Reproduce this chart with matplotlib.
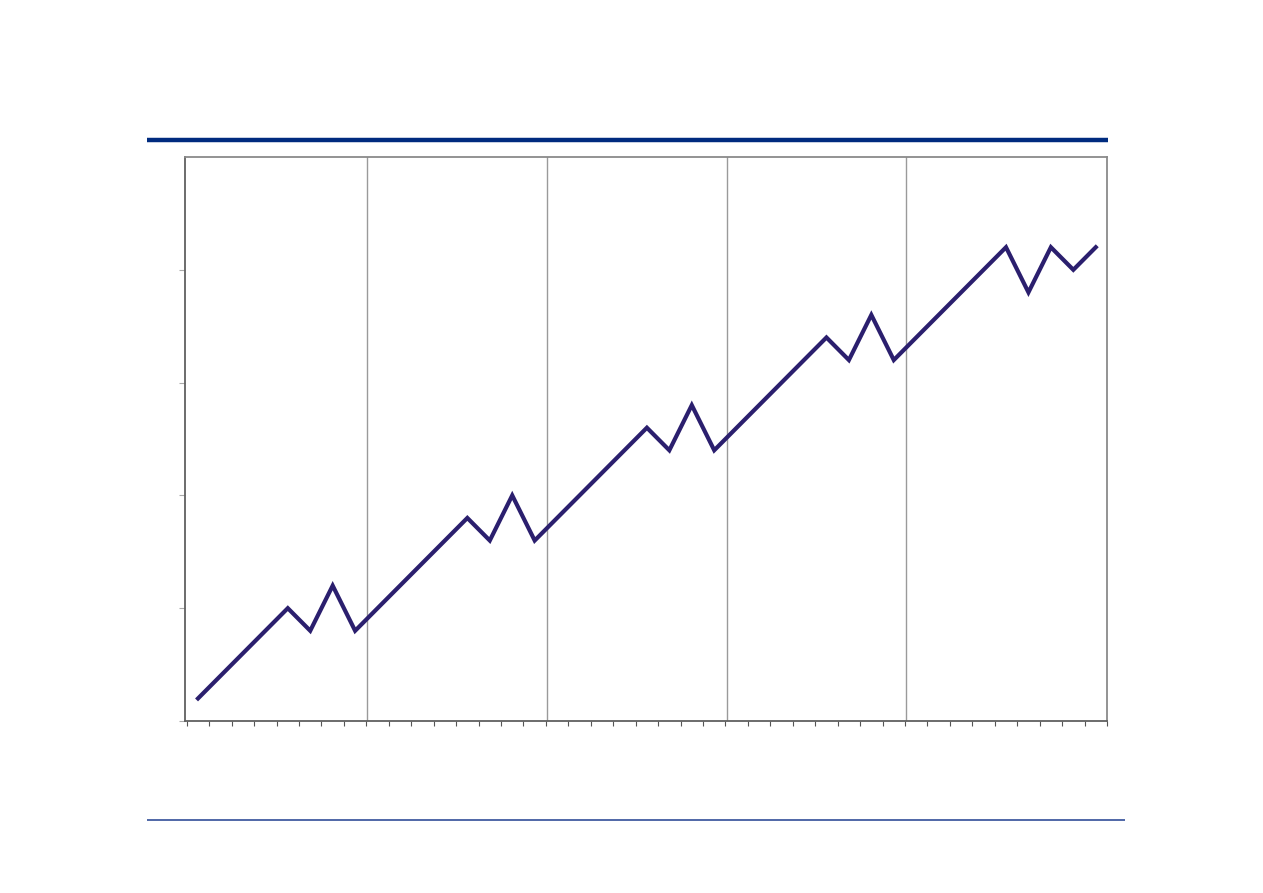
import matplotlib
matplotlib.use("Agg")
import matplotlib.pyplot as plt
import numpy as np

# Data
periods = list(range(1, 42))
values = [0.2, 0.4, 0.6, 0.8, 1.0, 0.8, 1.2, 0.8,
          1.0, 1.2, 1.4, 1.6, 1.8, 1.6, 2.0, 1.6,
          1.8, 2.0, 2.2, 2.4, 2.6, 2.4, 2.8, 2.4,
          2.6, 2.8, 3.0, 3.2, 3.4, 3.2, 3.6, 3.2,
          3.4, 3.6, 3.8, 4.0, 4.2, 3.8, 4.2, 4.0, 4.2]
group_starts = [9, 17, 25, 33]   # first period of each new group
y_ticks = [0, 1, 2, 3, 4]

W, H = 1263, 893
fig = plt.figure(figsize=(W / 100, H / 100), dpi=100)

ax = fig.add_axes([185 / W, 1 - 721 / H, (1107 - 185) / W, (721 - 157) / H])
x = np.arange(len(periods))
ax.plot(x, values, color="#2b1f6e", lw=3.0, solid_joinstyle="miter", zorder=3)

for g in group_starts:
    ax.axvline(periods.index(g) - 0.45, color="#9a9a9a", lw=1.0, zorder=1)

ax.set_xlim(-0.58, len(periods) - 0.5)
ax.set_ylim(0, 5)
ax.set_xticks(np.arange(len(periods) + 1) - 0.5)
ax.set_xticklabels([])
ax.set_yticks(y_ticks)
ax.set_yticklabels([])
ax.tick_params(axis="x", direction="out", length=3.5, width=0.8, color="#555555")
ax.tick_params(axis="y", direction="out", length=4, width=0.8, color="#aaaaaa")
for s in ["left", "bottom"]:
    ax.spines[s].set_color("#606060")
    ax.spines[s].set_linewidth(1.3)
for s in ["top", "right"]:
    ax.spines[s].set_color("#8a8a8a")
    ax.spines[s].set_linewidth(1.3)

# decorative rules
fig.add_artist(plt.Line2D([147 / W, 1108 / W], [1 - 140 / H, 1 - 140 / H],
                          color="#002b7f", lw=3.2, solid_capstyle="butt"))
fig.add_artist(plt.Line2D([147 / W, 1125 / W], [1 - 820 / H, 1 - 820 / H],
                          color="#1f3f8f", lw=1.1, solid_capstyle="butt"))

fig.savefig("out.png", dpi=100, facecolor="white")
